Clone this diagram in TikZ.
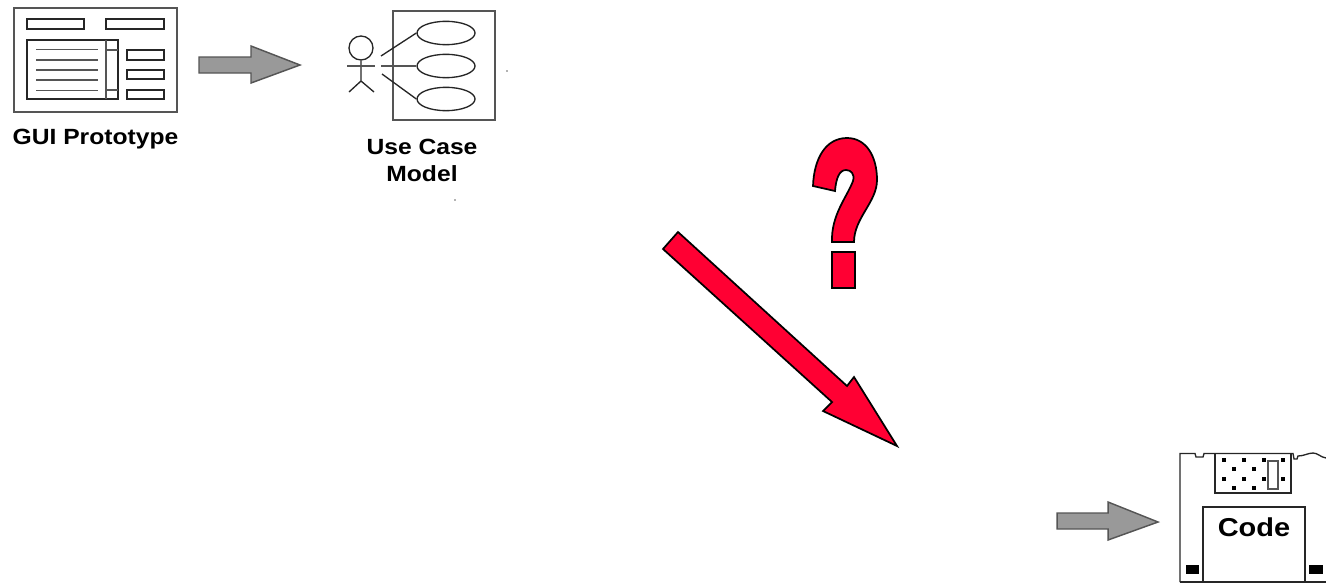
\documentclass[tikz,border=0pt]{standalone}
\usepackage{fontspec}
\setmainfont[FakeStretch=1.12]{Liberation Sans}
\usepackage{xcolor}
\usepackage{tikz}
\usetikzlibrary{shapes.geometric, positioning}
\definecolor{alertred}{HTML}{FF0033}
\definecolor{blockgray}{HTML}{999999}
\definecolor{framegray}{HTML}{555555}

\begin{document}
\begin{tikzpicture}[
    x=0.75pt, y=-0.75pt,
    frame/.style={rectangle, draw=framegray, line width=1.5pt, inner sep=0pt},
    thin line/.style={draw=black!85, line width=1pt},
    gray line/.style={draw=framegray, line width=1.2pt},
    block/.style={draw=framegray, fill=blockgray, line width=1.1pt, line join=miter},
    alert/.style={draw=black, fill=alertred, line width=1.3pt, line join=miter},
    usecase/.style={ellipse, draw=black!85, line width=1pt, inner sep=0pt, minimum width=43.5pt, minimum height=17.5pt},
    caption/.style={font=\fontsize{16.5}{20}\selectfont\bfseries, align=center, inner sep=0pt}
]
\useasboundingbox (0,0) rectangle (1326,583);
% GUI prototype
\node[frame, minimum width=122pt, minimum height=78pt] (gui) at (95.5,60) {};
\node[caption, below=12pt of gui] (guilabel) {GUI Prototype};
\draw[thin line] (27,19) rectangle (84,29);
\draw[thin line] (106,19) rectangle (164,29);
\draw[thin line] (27,40) rectangle (118,99);
\draw[gray line] (106,40) -- (106,99);
\draw[gray line] (106,50) -- (118,50);
\draw[gray line] (106,90) -- (118,90);
\foreach \y in {49.3,59.7,69.7,80,90.3}
    \draw[gray line] (36,\y) -- (98,\y);
\draw[thin line] (127,50) rectangle (164,60);
\draw[thin line] (127,70) rectangle (164,79);
\draw[thin line] (127,90) rectangle (164,99);
\draw[block] (199,57) -- (251,57) -- (251,46) -- (300,65) -- (251,83) -- (251,73) -- (199,73) -- cycle;
% use case model
\node[frame, minimum width=76.5pt, minimum height=81.75pt] (ucbox) at (444,65.5) {};
\node[caption, below=13.5pt of ucbox, xshift=-16.5pt] (uclabel) {Use Case\\Model};
\node[usecase] (uc1) at (446,33) {};
\node[usecase] (uc2) at (446,66) {};
\node[usecase] (uc3) at (446,99) {};
\node[circle, draw=black!85, line width=1pt, inner sep=0pt, minimum size=18pt] (head) at (361,48) {};
\coordinate (hip) at (361,81);
\coordinate (footl) at (349,92);
\coordinate (footr) at (374,92);
\coordinate (arml) at (347,66);
\coordinate (armr) at (375,66);
\coordinate (link1) at (381,56);
\coordinate (link2) at (381,66);
\coordinate (link3) at (382,74);
\draw[thin line] (head) -- (hip) -- (footl) (hip) -- (footr);
\draw[gray line] (arml) -- (armr);
\draw[thin line] (link1) -- (uc1.west);
\draw[gray line] (link2) -- (uc2);
\draw[thin line] (link3) -- (uc3.west);
\fill[black!60] (507,71) circle (0.6pt);
\fill[black!60] (455,200) circle (0.6pt);
% question and arrow
\draw[alert] (813,186) .. controls (814,158) and (826,138) .. (847,138)
    .. controls (866,138) and (877,156) .. (877,180)
    .. controls (877,202) and (854,218) .. (854,242)
    -- (832,242) .. controls (831,215) and (847,197) .. (853,181)
    .. controls (855,174) and (851,170) .. (846,170)
    .. controls (839,170) and (836,179) .. (835,191) -- cycle;
\draw[alert] (832,252) rectangle (855,288);
\draw[alert] (678,232) -- (847,386) -- (854,377) -- (897,446) -- (823,411) -- (832,402) -- (663,249) -- cycle;
% code disk
\draw[block] (1057,513) -- (1108,513) -- (1108,502) -- (1158,522) -- (1108,540) -- (1108,529) -- (1057,529) -- cycle;
\draw[thin line] (1180,582) -- (1180,453.5) -- (1195,453.5) -- (1196,457) -- (1203,457) -- (1204,453.5) -- (1293,453.5) -- (1294,459) -- (1297,459) -- (1298,456)
    .. controls (1304,456) and (1308,453) .. (1313,453) .. controls (1318,453) and (1320,457) .. (1326,458);
\draw[thin line] (1180,582) -- (1326,582);
\draw[thin line] (1215,453.5) rectangle (1291,493);
\foreach \x/\y in {1224/460,1244/460,1264/460,1283/460,1234/469,1254/469,1224/479,1244/479,1264/479,1283/479,1234/488,1254/488}
    \fill[black] (\x-1.8,\y-1.8) rectangle (\x+1.8,\y+1.8);
\draw[gray line, fill=white] (1268,461) rectangle (1278,489);
\node[rectangle, draw=black!85, line width=1pt, inner sep=0pt, minimum width=76.5pt, minimum height=56.25pt] (code) at (1254,544.5) {};
\node[font=\fontsize{19.4}{20}\selectfont\bfseries, inner sep=0pt] (codelabel) at (1254,527) {Code};
\fill[black] (1186,565) rectangle (1199,574);
\fill[black] (1309,565) rectangle (1323,574);
\end{tikzpicture}
\end{document}
